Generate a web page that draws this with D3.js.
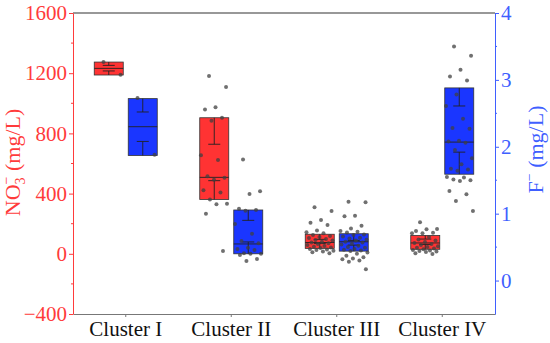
<!DOCTYPE html>
<html>
<head>
<meta charset="utf-8">
<script src="https://cdn.jsdelivr.net/npm/d3@7"></script>
<style>
body { margin: 0; background: #fff; }
svg text { font-family: "Liberation Serif", "Times New Roman", serif !important; }
</style>
</head>
<body>
<script>
// chart data
const clusters = ["Cluster I", "Cluster II", "Cluster III", "Cluster IV"];

// nitrate boxes (mg/L)
const no3Q1 = [1188, 361, 36, 30];
const no3Q3 = [1274, 904, 130, 122];
const no3Median = [1232, 508, 75, 72];
const no3CapLo = [1215, 486, 68, 62];
const no3CapHi = [1252, 728, 96, 98];
const no3Points = [
    [1275, 1190],
    [1181, 1108, 973, 958, 904, 884, 654, 623, 515, 506, 492, 422, 408, 360, 333, 329, 266, 19],
    [309, 284, 225, 207, 191, 154, 143, 136, 125, 118, 112, 105, 98, 92, 88, 80, 75, 70, 65, 58, 52, 47, 42, 38, 32, 28, 25, 21, 15, 10, 3],
    [209, 165, 163, 152, 140, 136, 136, 112, 95, 88, 78, 72, 65, 58, 50, 45, 40, 35, 30, 25, 22, 19, 15, 12, 3, -1]
];

// fluoride boxes (mg/L)
const fQ1 = [1.87, 0.40, 0.44, 1.59];
const fQ3 = [2.72, 1.055, 0.70, 2.88];
const fMedian = [2.30, 0.547, 0.58, 2.07];
const fCapLo = [2.08, 0.577, 0.53, 1.92];
const fCapHi = [2.52, 0.90, 0.60, 2.61];
const fPoints = [
    [2.73, 1.88],
    [1.81, 1.335, 1.295, 1.075, 1.055, 1.045, 0.846, 0.70, 0.59, 0.557, 0.49, 0.47, 0.457, 0.41, 0.40, 0.40, 0.383, 0.323, 0.293],
    [1.18, 1.17, 0.97, 0.96, 0.82, 0.78, 0.74, 0.73, 0.72, 0.69, 0.68, 0.66, 0.64, 0.63, 0.61, 0.60, 0.58, 0.57, 0.55, 0.54, 0.52, 0.50, 0.49, 0.47, 0.46, 0.45, 0.44, 0.42, 0.40, 0.37, 0.35, 0.33, 0.32, 0.30, 0.28, 0.17],
    [3.50, 3.36, 3.15, 3.05, 2.99, 2.78, 2.61, 2.42, 2.28, 2.27, 2.09, 2.08, 2.06, 1.95, 1.83, 1.74, 1.67, 1.66, 1.64, 1.55, 1.54, 1.51, 1.50, 1.49, 1.34, 1.29, 1.19, 1.04]
];

const width = 550;
const height = 343;
const plotL = 73, plotR = 495, plotT = 13, plotB = 314;

const redCol = "#ff3333";
const blueCol = "#1a36ff";
const redAxis = "#ff3b3b";
const blueAxis = "#3f5fff";

let svg = d3.select("body").append("svg")
    .attr("width", width)
    .attr("height", height);

let x = d3.scaleBand().domain(clusters).range([plotL, plotR]);
let yN = d3.scaleLinear().domain([-400, 1600]).range([plotB, plotT]);
let yF = d3.scaleLinear().domain([-0.5, 4]).range([plotB, plotT]);

const boxW = 29;
const shift = 17;

// top frame line
svg.append("line")
    .attr("x1", plotL).attr("x2", plotR)
    .attr("y1", plotT).attr("y2", plotT)
    .attr("stroke", "#333").attr("stroke-width", 1.2);

let xAxis = svg.append("g")
    .attr("transform", "translate(0," + plotB + ")")
    .call(d3.axisBottom(x).tickSizeInner(3).tickSizeOuter(0).tickPadding(4));
xAxis.attr("font-family", null);
xAxis.select(".domain").attr("stroke", "#777").attr("stroke-width", 1.2);
xAxis.selectAll(".tick line").attr("stroke", "#777");
xAxis.selectAll("text").attr("font-size", 21).attr("fill", "#111");

// left axis (nitrate)
let yNAxis = svg.append("g")
    .attr("transform", "translate(" + plotL + ",0)")
    .call(d3.axisLeft(yN).tickValues(d3.range(-400, 1601, 400)).tickSize(4).tickSizeOuter(0).tickPadding(2)
        .tickFormat(d => d < 0 ? "\u2212" + Math.abs(d) : d));
yNAxis.attr("font-family", null);
yNAxis.select(".domain").attr("stroke", redAxis);
yNAxis.selectAll(".tick line").attr("stroke", redAxis);
yNAxis.selectAll("text").attr("font-size", 21).attr("fill", redAxis);
svg.append("g")
    .attr("transform", "translate(" + plotL + ",0)")
    .selectAll("line").data(d3.range(-200, 1600, 400)).join("line")
    .attr("x1", -2).attr("x2", 0)
    .attr("y1", d => yN(d)).attr("y2", d => yN(d))
    .attr("stroke", redAxis);

// right axis (fluoride)
let yFAxis = svg.append("g")
    .attr("transform", "translate(" + plotR + ",0)")
    .call(d3.axisRight(yF).tickValues([0, 1, 2, 3, 4]).tickFormat(d3.format("d"))
        .tickSize(4).tickSizeOuter(0).tickPadding(2));
yFAxis.attr("font-family", null);
yFAxis.select(".domain").attr("stroke", blueAxis);
yFAxis.selectAll(".tick line").attr("stroke", blueAxis);
yFAxis.selectAll("text").attr("font-size", 21).attr("fill", blueAxis);
svg.append("g")
    .attr("transform", "translate(" + plotR + ",0)")
    .selectAll("line").data([0.5, 1.5, 2.5, 3.5]).join("line")
    .attr("x1", 0).attr("x2", 2)
    .attr("y1", d => yF(d)).attr("y2", d => yF(d))
    .attr("stroke", blueAxis);

// axis titles (subscript 3 with the charge stacked above it)
let tN = svg.append("text")
    .attr("transform", "translate(20," + ((plotT + plotB) / 2 - 1) + ") rotate(-90)")
    .attr("text-anchor", "middle")
    .attr("font-size", 22)
    .attr("fill", redAxis);
tN.append("tspan").text("NO");
tN.append("tspan").attr("font-size", 14).attr("dy", 5).text("3");
tN.append("tspan").attr("font-size", 14).attr("dx", -7).attr("dy", -14).text("\u2212");
tN.append("tspan").attr("dy", 9).text(" (mg/L)");

let tF = svg.append("text")
    .attr("transform", "translate(543," + ((plotT + plotB) / 2 - 14) + ") rotate(-90)")
    .attr("text-anchor", "middle")
    .attr("font-size", 22)
    .attr("fill", blueAxis);
tF.append("tspan").text("F");
tF.append("tspan").attr("font-size", 14).attr("dy", -9).text("\u2212");
tF.append("tspan").attr("dy", 9).text(" (mg/L)");

// draws one box with its whiskers and points
function drawBox(cx, y, q1, q3, med, capLo, capHi, pts, fill) {
    let g = svg.append("g");
    g.append("rect")
        .attr("x", cx - boxW / 2)
        .attr("y", y(q3))
        .attr("width", boxW)
        .attr("height", y(q1) - y(q3))
        .attr("fill", fill)
        .attr("stroke", "#333")
        .attr("stroke-width", 0.8);
    g.append("line")
        .attr("x1", cx - boxW / 2).attr("x2", cx + boxW / 2)
        .attr("y1", y(med)).attr("y2", y(med))
        .attr("stroke", "#222").attr("stroke-width", 0.9);
    g.append("line")
        .attr("x1", cx).attr("x2", cx)
        .attr("y1", y(q3)).attr("y2", y(capHi))
        .attr("stroke", "#222").attr("stroke-width", 0.9);
    g.append("line")
        .attr("x1", cx).attr("x2", cx)
        .attr("y1", y(q1)).attr("y2", y(capLo))
        .attr("stroke", "#222").attr("stroke-width", 0.9);
    [capLo, capHi].forEach(v => {
        g.append("line")
            .attr("x1", cx - 6).attr("x2", cx + 6)
            .attr("y1", y(v)).attr("y2", y(v))
            .attr("stroke", "#222").attr("stroke-width", 0.9);
    });
    // spread the points across the box width
    g.selectAll("circle").data(pts).join("circle")
        .attr("cx", (d, i) => cx + (((i * 0.618034 + 0.31) % 1) - 0.5) * boxW * 0.95)
        .attr("cy", d => y(d))
        .attr("r", 2)
        .attr("fill", "#404040")
        .attr("opacity", 0.75);
}

clusters.forEach((c, i) => {
    let cx = x(c) + x.bandwidth() / 2;
    drawBox(cx - shift, yN, no3Q1[i], no3Q3[i], no3Median[i], no3CapLo[i], no3CapHi[i], no3Points[i], redCol);
    drawBox(cx + shift, yF, fQ1[i], fQ3[i], fMedian[i], fCapLo[i], fCapHi[i], fPoints[i], blueCol);
});
</script>
</body>
</html>
